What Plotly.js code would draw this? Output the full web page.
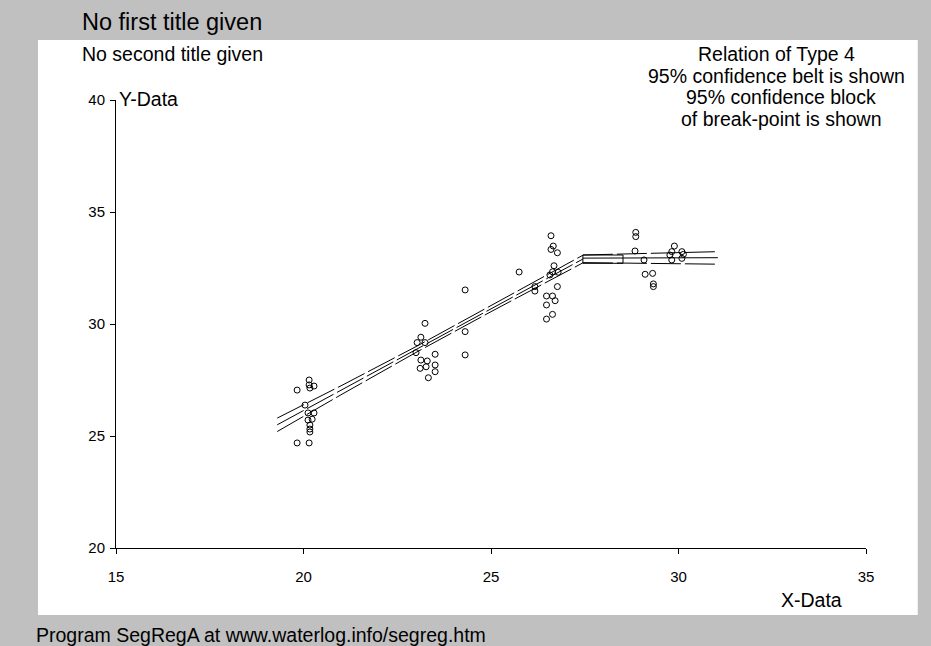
<!DOCTYPE html>
<html>
<head>
<meta charset="utf-8">
<script src="https://cdn.plot.ly/plotly-3.0.1.min.js"></script>
<style>
  html, body { margin: 0; padding: 0; background: #c0c0c0; }
  #chart { width: 931px; height: 646px; }
</style>
</head>
<body>
<div id="chart"></div>
<script>
// Observed data points
const pointsX = [
  19.83, 20.15, 20.15, 20.17, 20.28, 20.04, 20.12, 20.28, 20.12, 20.23, 20.17, 20.17, 20.17, 19.83, 20.15,
  23.24, 23.13, 23.03, 23.24, 23.00, 23.51, 23.13, 23.30, 23.11, 23.27, 23.51, 23.51, 23.33,
  24.31, 24.31, 24.31, 25.75, 26.17, 26.17,
  26.60, 26.66, 26.60, 26.77, 26.68, 26.64, 26.79, 26.57, 26.77, 26.48, 26.64, 26.71, 26.48, 26.64, 26.48,
  28.86, 28.86, 28.84, 29.08, 29.11, 29.31, 29.33, 29.33, 29.89, 29.82, 29.77, 30.09, 30.13, 30.09, 29.82
];
const pointsY = [
  27.05, 27.50, 27.28, 27.14, 27.23, 26.38, 26.03, 26.03, 25.71, 25.75, 25.49, 25.31, 25.18, 24.69, 24.69,
  30.03, 29.41, 29.17, 29.17, 28.72, 28.65, 28.39, 28.35, 28.02, 28.09, 28.17, 27.87, 27.60,
  31.52, 29.66, 28.62, 32.32, 31.67, 31.47,
  33.94, 33.48, 33.33, 33.18, 32.60, 32.33, 32.31, 32.19, 31.67, 31.25, 31.25, 31.04, 30.85, 30.43, 30.22,
  34.09, 33.90, 33.26, 32.86, 32.22, 32.26, 31.79, 31.67, 33.48, 33.23, 33.08, 33.23, 33.11, 32.93, 32.86
];

// Segment 1 (sloping) regression line and 95% confidence belt
const seg1X     = [19.30, 21.00, 23.00, 25.00, 27.45];
const seg1Mid   = [25.50, 27.04, 28.86, 30.68, 32.90];
const seg1Upper = [25.80, 27.24, 28.99, 30.81, 33.07];
const seg1Lower = [25.20, 26.84, 28.73, 30.55, 32.73];

// Segment 2 (horizontal) regression line and 95% confidence belt
const seg2X     = [27.45, 29.20, 31.05];
const seg2Mid   = [32.94, 32.95, 32.96];
const seg2Upper = [33.08, 33.14, 33.23];
const seg2Lower = [32.74, 32.70, 32.67];

// 95% confidence block of the break-point
const blockX = [27.45, 28.52];
const blockY = [32.71, 33.08];

const xTicks = [15, 20, 25, 30, 35];
const yTicks = [20, 25, 30, 35, 40];

const FONT = '"Liberation Sans", Arial, sans-serif';
const lineStyle = {color: '#000', width: 1, dash: '30px,4px'};

const traces = [
  {x: pointsX, y: pointsY, mode: 'markers', type: 'scatter',
   marker: {symbol: 'circle-open', size: 6, color: '#000', line: {width: 1, color: '#000'}}},
  {x: seg1X, y: seg1Mid, mode: 'lines', line: lineStyle},
  {x: seg1X, y: seg1Upper, mode: 'lines', line: lineStyle},
  {x: seg1X, y: seg1Lower, mode: 'lines', line: lineStyle},
  {x: seg2X, y: seg2Mid, mode: 'lines', line: {color: '#000', width: 1}},
  {x: seg2X, y: seg2Upper, mode: 'lines', line: lineStyle},
  {x: seg2X, y: seg2Lower, mode: 'lines', line: lineStyle},
  {x: [blockX[0], blockX[1], blockX[1], blockX[0], blockX[0]],
   y: [blockY[0], blockY[0], blockY[1], blockY[1], blockY[0]],
   mode: 'lines', line: {color: '#000', width: 1}}
];

function ann(text, x, y, size, xanchor) {
  return {text: text, x: x, y: y, xref: 'paper', yref: 'paper', showarrow: false,
          xanchor: xanchor, yanchor: 'middle', borderpad: 0,
          font: {family: FONT, size: size, color: '#000'}};
}

const TS = 19.5;

const layout = {
  width: 931, height: 646,
  margin: {l: 116, r: 65, t: 100, b: 98},
  paper_bgcolor: '#c0c0c0',
  plot_bgcolor: '#ffffff',
  showlegend: false,
  font: {family: FONT, color: '#000'},
  xaxis: {range: [15, 35], tickvals: xTicks, ticktext: xTicks.map(String),
          showgrid: false, zeroline: false, showline: true, linecolor: '#000', linewidth: 1,
          ticks: 'outside', ticklen: 5, tickcolor: '#000', ticklabelstandoff: 10,
          tickfont: {family: FONT, size: 15, color: '#000'}},
  yaxis: {range: [20, 40], tickvals: yTicks, ticktext: yTicks.map(String),
          showgrid: false, zeroline: false, showline: true, linecolor: '#000', linewidth: 1,
          ticks: 'outside', ticklen: 5, tickcolor: '#000', ticklabelstandoff: 2,
          tickfont: {family: FONT, size: 15, color: '#000'}},
  shapes: [
    {type: 'rect', xref: 'paper', yref: 'paper', x0: -0.104, x1: 1.069, y0: -0.1496, y1: 1.134,
     fillcolor: '#ffffff', line: {width: 0}, layer: 'below'}
  ],
  annotations: [
    ann('No first title given', -0.047, 1.174, 23.5, 'left'),
    ann('No second title given', -0.047, 1.1027, TS, 'left'),
    ann('Relation of Type 4', 0.88, 1.1027, TS, 'center'),
    ann('95% confidence belt is shown', 0.88, 1.0536, TS, 'center'),
    ann('95% confidence block', 0.8867, 1.0067, TS, 'center'),
    ann('of break-point is shown', 0.8867, 0.9576, TS, 'center'),
    ann('Y-Data', 0.003, 1.0022, TS, 'left'),
    ann('X-Data', 0.9267, -0.116, TS, 'center'),
    ann('Program SegRegA at www.waterlog.info/segreg.htm', -0.108, -0.194, TS, 'left')
  ]
};

Plotly.newPlot('chart', traces, layout, {displayModeBar: false, staticPlot: true});
</script>
</body>
</html>
